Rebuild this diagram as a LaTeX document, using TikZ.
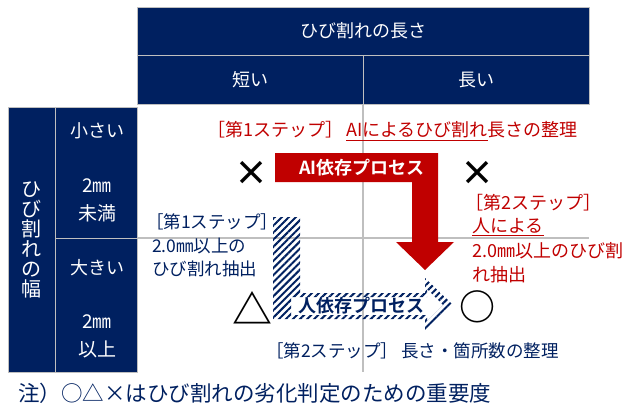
\documentclass[tikz,border=0pt]{standalone}
\usepackage{fontspec}
\setmainfont{Noto Sans CJK JP}
\newfontfamily\jpbold{Noto Sans CJK JP Bold}
\usetikzlibrary{patterns.meta}
\definecolor{navy}{HTML}{002060}
\definecolor{darkred}{HTML}{C00000}
\definecolor{gridgray}{HTML}{BFBFBF}
\newcommand{\fs}[1]{\fontsize{#1}{#1}\selectfont}
\tikzset{
  cell/.style={fill=navy, draw=gridgray, line width=0.8pt},
  hdr/.style={text=white, font=\fs{18}, inner sep=0pt},
  redtxt/.style={text=darkred, font=\fs{18}, inner sep=0pt, anchor=west},
  bluetxt/.style={text=navy, font=\fs{17.5}, inner sep=0pt, anchor=west},
  sym/.style={text=black, font=\jpbold\fs{34}, inner sep=0pt},
}
\begin{document}
\begin{tikzpicture}[x=1pt,y=-1pt]
\useasboundingbox (0,0) rectangle (638,407);
% grid lines
\draw[gridgray, line width=1.2pt] (363,104) -- (363,372);
\draw[gridgray, line width=1.2pt] (137,238) -- (589,238);
% header cells
\draw[cell] (137,7) rectangle (589,55);
\draw[cell] (137,55) rectangle (363,104);
\draw[cell] (363,55) rectangle (589,104);
\node[hdr] (hlen) at (363,31) {ひび割れの長さ};
\node[hdr] (hshort) at (250,80) {短い};
\node[hdr] (hlong) at (476,80) {長い};
% left cells
\draw[cell] (8,107) rectangle (55,372);
\draw[cell] (55,107) rectangle (137,238);
\draw[cell] (55,238) rectangle (137,372);
\node[hdr, font=\fs{20}, align=center] (hwidth) at (31,240)
  {\baselineskip=23pt ひ\\び\\割\\れ\\の\\幅};
\node[hdr] (small) at (97,131) {小さい};
\node[hdr, font=\fs{19}] (small2) at (97,186) {2㎜};
\node[hdr, font=\fs{19}] (small3) at (97,213) {未満};
\node[hdr] (big) at (97,268) {大きい};
\node[hdr, font=\fs{19}] (big2) at (97,322) {2㎜};
\node[hdr, font=\fs{19}] (big3) at (97,349) {以上};
% red arrow (AI)
\fill[darkred] (275,153) -- (438,153) -- (438,242) -- (454,242) -- (425,270)
  -- (396,242) -- (412,242) -- (412,182) -- (275,182) -- cycle;
\node[text=white, font=\jpbold\fs{18}, inner sep=0pt] (ai) at (362,168) {AI依存プロセス};
% hatched arrow (human)
\fill[even odd rule, pattern={Lines[angle=45,distance=5pt,line width=2pt]}, pattern color=navy]
  (273,217) -- (300,217) -- (300,293) -- (425,293) -- (425,278) -- (453,305)
  -- (425,332) -- (425,319) -- (273,319) -- cycle
  (291,297) -- (427,297) -- (427,289) -- (443,305) -- (427,321)
  -- (427,315) -- (291,315) -- cycle;
\node[text=navy, font=\jpbold\fs{18}, inner sep=0pt] (hu) at (361,306) {人依存プロセス};
% symbols
\node[sym] (x1) at (251,173) {×};
\node[sym] (x2) at (477,173) {×};
\node[sym, font=\jpbold\fs{40}] (tri) at (252,308) {△};
\node[sym, font=\jpbold\fs{36}] (cir) at (477,307) {○};
% red texts
\node[redtxt] (r1) at (207,131) {［第1ステップ］\,\underline{AIによるひび割れ}長さの整理};
\node[redtxt] (r2) at (465,203) {［第2ステップ］};
\node[redtxt] (r3) at (472,227) {\underline{人による}};
\node[redtxt] (r4) at (472,251) {2.0㎜以上のひび割};
\node[redtxt] (r5) at (472,275) {れ抽出};
% blue texts
\node[bluetxt] (b1) at (146,222) {［第1ステップ］};
\node[bluetxt] (b2) at (152,246) {2.0㎜以上の};
\node[bluetxt] (b3) at (152,269) {ひび割れ抽出};
\node[bluetxt] (b4) at (266,351) {［第2ステップ］\,長さ・箇所数の整理};
% note
\node[text=navy, font=\fs{21.5}, inner sep=0pt, anchor=west] (note) at (18,393)
  {注）○△×はひび割れの劣化判定のための重要度};
\end{tikzpicture}
\end{document}
